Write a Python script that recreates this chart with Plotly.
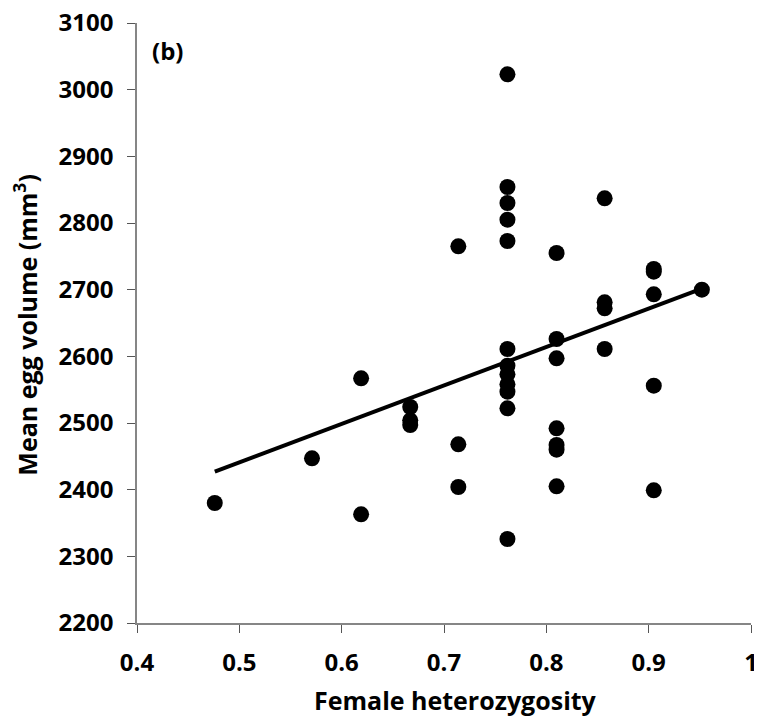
import numpy as np
import plotly.graph_objects as go

heterozygosity = [0.476, 0.571, 0.619, 0.619, 0.667, 0.667, 0.667,
                  0.714, 0.714, 0.714,
                  0.762, 0.762, 0.762, 0.762, 0.762, 0.762, 0.762, 0.762, 0.762, 0.762, 0.762, 0.762,
                  0.810, 0.810, 0.810, 0.810, 0.810, 0.810, 0.810,
                  0.857, 0.857, 0.857, 0.857,
                  0.905, 0.905, 0.905, 0.905, 0.905,
                  0.952]
egg_volume = [2380, 2447, 2567, 2363, 2524, 2504, 2497,
              2765, 2468, 2404,
              3023, 2854, 2830, 2805, 2773, 2611, 2586, 2573, 2558, 2547, 2522, 2326,
              2755, 2626, 2597, 2492, 2467, 2460, 2405,
              2837, 2681, 2672, 2611,
              2731, 2727, 2693, 2556, 2399,
              2700]

x_ticks = [0.4, 0.5, 0.6, 0.7, 0.8, 0.9, 1.0]
x_ticktext = ["0.4", "0.5", "0.6", "0.7", "0.8", "0.9", "1"]

x = np.array(heterozygosity)
y = np.array(egg_volume)
slope, intercept = np.polyfit(x, y, 1)
xl = np.array([x.min(), x.max()])
yl = slope * xl + intercept

font_family = "Open Sans"

fig = go.Figure()
fig.add_trace(go.Scatter(x=xl, y=yl, mode="lines",
                         line=dict(color="black", width=4), showlegend=False,
                         hoverinfo="skip"))
fig.add_trace(go.Scatter(x=heterozygosity, y=egg_volume, mode="markers",
                         marker=dict(color="black", size=16), showlegend=False))

axis_common = dict(showgrid=False, zeroline=False, showline=True, linecolor="#868686",
                   linewidth=1.5, ticks="outside", ticklen=8, tickcolor="#555555",
                   tickfont=dict(size=24, family=font_family, weight="bold", color="black"),
                   ticklabelstandoff=9, ticklabeloverflow="allow", automargin=False)

fig.update_layout(
    width=754, height=709,
    margin=dict(l=129, r=11, t=15, b=94, autoexpand=False),
    plot_bgcolor="white", paper_bgcolor="white",
    font=dict(family=font_family, color="black"),
    xaxis=dict(range=[0.4, 1.0], tickvals=x_ticks, ticktext=x_ticktext, **axis_common),
    yaxis=dict(range=[2200, 3100], dtick=100, **axis_common),
    annotations=[
        dict(text="<b>(b)</b>", xref="paper", yref="paper", x=0.021, y=0.955,
             xanchor="left", yanchor="middle", showarrow=False,
             font=dict(size=24, family=font_family, color="black")),
        dict(text="<b>Female heterozygosity</b>", xref="paper", yref="paper",
             x=0.518, y=-0.128, xanchor="center", yanchor="middle", showarrow=False,
             font=dict(size=25, family=font_family, color="black")),
        dict(text="<b>Mean egg volume (mm<sup>3</sup>)</b>", xref="paper", yref="paper",
             x=-0.181, y=0.497, xanchor="center", yanchor="middle", showarrow=False,
             textangle=-90, font=dict(size=25, family=font_family, color="black")),
    ],
)

fig.write_html("out.html")
